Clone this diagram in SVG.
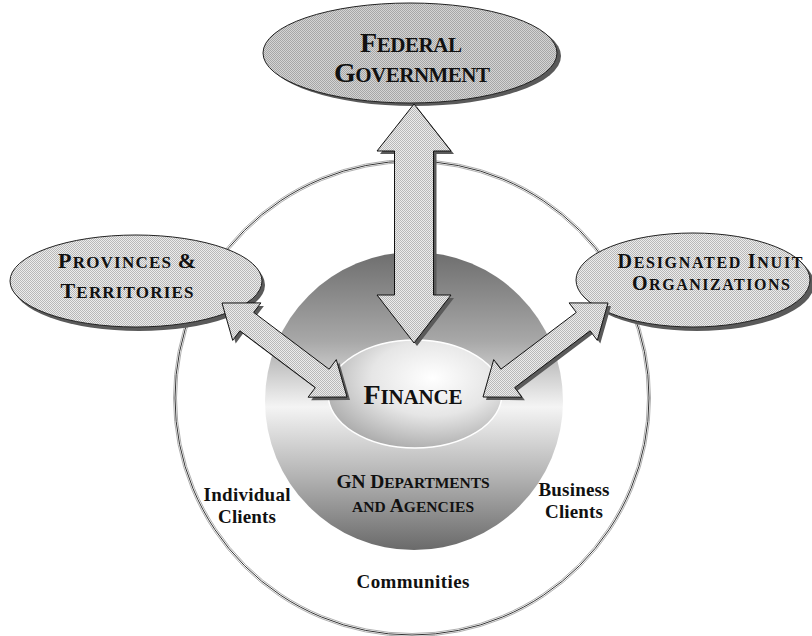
<svg xmlns="http://www.w3.org/2000/svg" width="812" height="636" viewBox="0 0 812 636">
<style>
.t{font-family:"Liberation Serif","Times New Roman",serif;font-weight:bold;fill:#111;text-anchor:middle}
.shadow{fill:#5a5a5a}
.arrow{fill:url(#hatchB);stroke:#111;stroke-width:1}
.node{stroke:#222;stroke-width:1}
</style>
<defs>
<pattern id="hatchA" width="2" height="2" patternUnits="userSpaceOnUse">
<rect width="2" height="2" fill="#d4d4d4"/>
<rect width="1" height="1" fill="#a6a6a6"/>
<rect x="1" y="1" width="1" height="1" fill="#a6a6a6"/>
</pattern>
<pattern id="hatchB" width="2" height="2" patternUnits="userSpaceOnUse">
<rect width="2" height="2" fill="#ececec"/>
<rect width="1" height="1" fill="#b8b8b8"/>
<rect x="1" y="1" width="1" height="1" fill="#b8b8b8"/>
</pattern>
<linearGradient id="gnGrad" x1="0" y1="0" x2="0" y2="1">
<stop offset="0" stop-color="#6e6e6e"/>
<stop offset="0.3" stop-color="#a8a8a8"/>
<stop offset="0.52" stop-color="#f4f4f4"/>
<stop offset="0.75" stop-color="#b4b4b4"/>
<stop offset="1" stop-color="#6a6a6a"/>
</linearGradient>
<radialGradient id="finGrad" cx="0.6" cy="0.35" r="0.7">
<stop offset="0" stop-color="#ffffff"/>
<stop offset="0.5" stop-color="#e6e6e6"/>
<stop offset="1" stop-color="#a8a8a8"/>
</radialGradient>
</defs>
<rect width="812" height="636" fill="#ffffff"/>

<g id="communities">
<circle cx="412" cy="398" r="238.5" fill="none" stroke="#b0b0b0" stroke-width="1"/>
<circle cx="412" cy="398" r="237" fill="none" stroke="#333" stroke-width="1"/>
<circle cx="412" cy="398" r="235.5" fill="none" stroke="#b0b0b0" stroke-width="1"/>
<text class="t" x="413" y="588" font-size="19" textLength="113" lengthAdjust="spacing">Communities</text>
<text class="t" x="247" y="501" font-size="19" textLength="87" lengthAdjust="spacing">Individual</text>
<text class="t" x="247" y="523" font-size="19" textLength="58" lengthAdjust="spacing">Clients</text>
<text class="t" x="574" y="496" font-size="19" textLength="71" lengthAdjust="spacing">Business</text>
<text class="t" x="574" y="518" font-size="19" textLength="58" lengthAdjust="spacing">Clients</text>
</g>

<g id="gn-departments">
<circle cx="414" cy="401" r="149" fill="url(#gnGrad)"/>
<text class="t" x="413" y="488" font-size="15.5" textLength="153" lengthAdjust="spacing"><tspan font-size="19.5">GN D</tspan>EPARTMENTS</text>
<text class="t" x="413" y="512" font-size="15.5" textLength="122" lengthAdjust="spacing">AND <tspan font-size="19.5">A</tspan>GENCIES</text>
</g>

<g id="finance">
<ellipse cx="415" cy="394" rx="87" ry="54" fill="url(#finGrad)" stroke="#ffffff" stroke-width="1.5"/>
<text class="t" x="413" y="404" font-size="21" textLength="99" lengthAdjust="spacing"><tspan font-size="28">F</tspan>INANCE</text>
</g>

<g id="federal-government">
<ellipse class="shadow" cx="414" cy="56" rx="147" ry="50"/>
<ellipse class="node" cx="410" cy="53" rx="147" ry="50" fill="url(#hatchA)"/>
<text class="t" x="411" y="52" font-size="21" textLength="102" lengthAdjust="spacing"><tspan font-size="28">F</tspan>EDERAL</text>
<text class="t" x="412" y="82" font-size="21" textLength="156" lengthAdjust="spacing"><tspan font-size="28">G</tspan>OVERNMENT</text>
</g>

<g id="provinces-territories">
<ellipse class="shadow" cx="139" cy="285" rx="126" ry="46"/>
<ellipse class="node" cx="136" cy="281" rx="126" ry="46" fill="url(#hatchB)"/>
<text class="t" x="127" y="268" font-size="17" textLength="138" lengthAdjust="spacing"><tspan font-size="22">P</tspan>ROVINCES <tspan font-size="22">&amp;</tspan></text>
<text class="t" x="127" y="298" font-size="17" textLength="133" lengthAdjust="spacing"><tspan font-size="22">T</tspan>ERRITORIES</text>
</g>

<g id="designated-inuit-organizations">
<ellipse class="shadow" cx="697" cy="284" rx="117" ry="47"/>
<ellipse class="node" cx="693" cy="280" rx="117" ry="47" fill="url(#hatchB)"/>
<text class="t" x="710" y="268" font-size="16" textLength="185" lengthAdjust="spacing"><tspan font-size="20">D</tspan>ESIGNATED <tspan font-size="20">I</tspan>NUIT</text>
<text class="t" x="711" y="290" font-size="16" textLength="158" lengthAdjust="spacing"><tspan font-size="20">O</tspan>RGANIZATIONS</text>
</g>

<g id="connectors">
<g transform="translate(3,3)" class="shadow">
<path d="M414,104 L451,151 L433.5,151 L433.5,295 L451,295 L414,343 L377,295 L394.5,295 L394.5,151 L377,151 Z"/>
<path d="M222,303 L260.9,302.9 L253.7,312.4 L329.1,369.2 L336.3,359.6 L347,397 L308.1,397.2 L315.3,387.6 L239.9,330.8 L232.7,340.4 Z"/>
<path d="M608,303 L569.1,302.9 L576.3,312.4 L500.9,369.2 L493.7,359.6 L483,397 L521.9,397.2 L514.7,387.6 L590.1,330.8 L597.3,340.4 Z"/>
</g>
<path class="arrow" d="M414,104 L451,151 L433.5,151 L433.5,295 L451,295 L414,343 L377,295 L394.5,295 L394.5,151 L377,151 Z"/>
<path class="arrow" d="M222,303 L260.9,302.9 L253.7,312.4 L329.1,369.2 L336.3,359.6 L347,397 L308.1,397.2 L315.3,387.6 L239.9,330.8 L232.7,340.4 Z"/>
<path class="arrow" d="M608,303 L569.1,302.9 L576.3,312.4 L500.9,369.2 L493.7,359.6 L483,397 L521.9,397.2 L514.7,387.6 L590.1,330.8 L597.3,340.4 Z"/>
</g>
</svg>
